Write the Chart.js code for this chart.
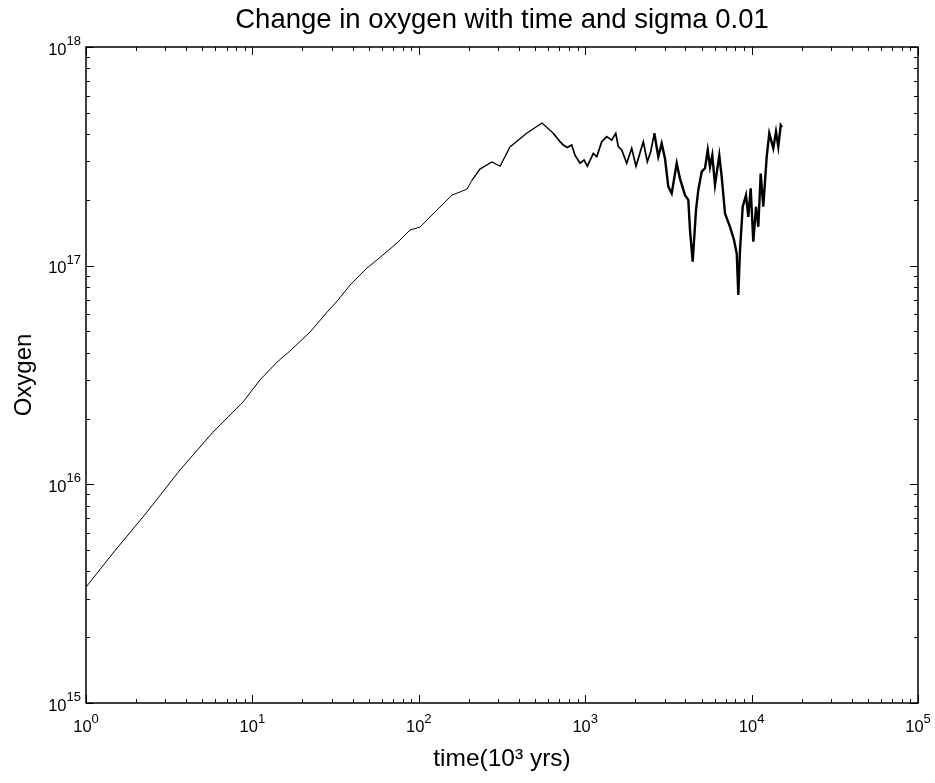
<!DOCTYPE html>
<html>
<head>
<meta charset="utf-8">
<script src="https://cdn.jsdelivr.net/npm/chart.js@4.4.1/dist/chart.umd.min.js"></script>
<style>
  html, body { margin: 0; padding: 0; background: #fff; }
  canvas { display: block; }
</style>
</head>
<body>
<canvas id="oxyChart" width="935" height="783"></canvas>
<script>
// ==================== DATA ====================
const timeKyr = [1, 1.453, 2.326, 3.67, 5.8, 8.78, 11.1, 14.05, 16.8, 22.2, 28.1, 32.7, 38.6, 48.8, 56.9,
  74, 88.5, 101.7, 125, 158, 195, 209, 233, 275, 308, 353, 447, 550, 641,
  706, 739, 780, 830, 868, 931, 984, 1030, 1119, 1173, 1257, 1347, 1443, 1526, 1581, 1658, 1776, 1903,
  2020, 2114, 2234, 2362, 2475, 2603, 2750, 2882, 3017, 3158, 3310, 3547, 3712, 3979, 4165, 4264, 4426,
  4633, 4783, 5013, 5248, 5448, 5623, 5805, 6026, 6396, 6612, 6921, 7417, 7841, 8140, 8321, 8519, 8843,
  9255, 9555, 9876, 10237, 10627, 10972, 11342, 11757, 12325, 12775, 13502, 14016, 14470, 14960, 15230];
const oxygen = [3.39e15, 4.85e15, 7.47e15, 1.163e16, 1.734e16, 2.378e16, 3.0e16, 3.62e16, 4.07e16, 4.97e16, 6.13e16, 6.96e16, 8.15e16, 9.75e16, 1.072e17,
  1.269e17, 1.455e17, 1.501e17, 1.759e17, 2.1e17, 2.24e17, 2.463e17, 2.765e17, 2.98e17, 2.85e17, 3.49e17, 4.04e17, 4.49e17, 4.04e17,
  3.69e17, 3.56e17, 3.47e17, 3.56e17, 3.2e17, 2.94e17, 3.04e17, 2.85e17, 3.26e17, 3.15e17, 3.69e17, 3.89e17, 3.75e17, 4.03e17, 3.5e17, 3.38e17, 2.94e17, 3.44e17,
  2.85e17, 3.2e17, 3.69e17, 2.99e17, 3.32e17, 4.03e17, 3.15e17, 3.62e17, 3.09e17, 2.3e17, 2.14e17, 2.94e17, 2.5e17, 2.1e17, 2.0e17, 1.455e17, 1.042e17,
  1.796e17, 2.22e17, 2.69e17, 2.79e17, 3.38e17, 2.83e17, 3.2e17, 2.34e17, 3.2e17, 2.55e17, 1.734e17, 1.506e17, 1.31e17, 1.138e17, 7.34e16, 1.178e17, 1.86e17,
  2.1e17, 1.673e17, 2.26e17, 1.286e17, 1.86e17, 1.506e17, 2.64e17, 1.86e17, 3.15e17, 4.03e17, 3.44e17, 4.1e17, 3.5e17, 4.39e17, 4.3e17];

const xTickValues = [1, 10, 100, 1000, 10000, 100000];
const xTickLabels = ['10^0', '10^1', '10^2', '10^3', '10^4', '10^5'];
const yTickValues = [1e15, 1e16, 1e17, 1e18];
const yTickLabels = ['10^15', '10^16', '10^17', '10^18'];

const FONT = '"Liberation Sans", Arial, Helvetica, sans-serif';

// ==================== FRAME, INWARD TICKS, POWER LABELS ====================
function logTickValues(min, max) {
  const out = [];
  for (let k = Math.round(Math.log10(min)); k < Math.round(Math.log10(max)); k++) {
    for (let m = 1; m <= 9; m++) out.push({ v: m * Math.pow(10, k), major: m === 1 });
  }
  out.push({ v: max, major: true });
  return out;
}

// draws "10" with a raised exponent, x is left edge
function drawPower(ctx, label, x, baseY) {
  const [base, exp] = label.split('^');
  ctx.font = '16.5px ' + FONT;
  ctx.fillText(base, x, baseY);
  const w = ctx.measureText(base).width;
  ctx.font = '13px ' + FONT;
  ctx.fillText(exp, x + w, baseY - 9.5);
}
function powerWidth(ctx, label) {
  const [base, exp] = label.split('^');
  ctx.font = '16.5px ' + FONT;
  const w = ctx.measureText(base).width;
  ctx.font = '13px ' + FONT;
  return w + ctx.measureText(exp).width;
}

const frameTicks = {
  id: 'frameTicks',
  afterDraw(chart) {
    const { ctx, chartArea: a, scales: { x, y } } = chart;
    ctx.save();
    ctx.strokeStyle = '#000';
    ctx.lineWidth = 1;
    ctx.beginPath();
    logTickValues(x.min, x.max).forEach(t => {
      const px = Math.round(x.getPixelForValue(t.v)) + 0.5;
      const len = t.major ? 8 : 4;
      ctx.moveTo(px, a.bottom); ctx.lineTo(px, a.bottom - len);
      ctx.moveTo(px, a.top); ctx.lineTo(px, a.top + len);
    });
    logTickValues(y.min, y.max).forEach(t => {
      const py = Math.round(y.getPixelForValue(t.v)) + 0.5;
      const len = t.major ? 8 : 4;
      ctx.moveTo(a.left, py); ctx.lineTo(a.left + len, py);
      ctx.moveTo(a.right, py); ctx.lineTo(a.right - len, py);
    });
    ctx.stroke();
    ctx.lineWidth = 1.5;
    ctx.strokeRect(a.left, a.top, a.width, a.height);

    // tick labels
    ctx.fillStyle = '#000';
    ctx.textBaseline = 'alphabetic';
    ctx.textAlign = 'left';
    xTickValues.forEach((v, i) => {
      const px = x.getPixelForValue(v);
      const w = powerWidth(ctx, xTickLabels[i]);
      drawPower(ctx, xTickLabels[i], px - w / 2, a.bottom + 29);
    });
    yTickValues.forEach((v, i) => {
      const py = y.getPixelForValue(v);
      const w = powerWidth(ctx, yTickLabels[i]);
      drawPower(ctx, yTickLabels[i], a.left - 5 - w, py + 7.5);
    });
    ctx.restore();
  }
};

// ==================== CHART ====================
Chart.defaults.font.family = FONT;
Chart.defaults.color = '#000';

const points = timeKyr.map((t, i) => ({ x: t, y: oxygen[i] }));

new Chart(document.getElementById('oxyChart'), {
  type: 'line',
  data: {
    datasets: [{
      label: 'Oxygen',
      data: points,
      borderColor: '#000',
      borderWidth: 1,
      pointRadius: 0,
      tension: 0,
      fill: false,
      segment: {
        borderWidth: c => c.p0.parsed.x > 2500 ? 2.4 : (c.p0.parsed.x > 600 ? 1.7 : (c.p0.parsed.x > 200 ? 1.3 : 1))
      }
    }]
  },
  options: {
    responsive: false,
    animation: false,
    layout: { padding: { left: 0, right: 17, top: 0, bottom: 0 } },
    plugins: {
      legend: { display: false },
      tooltip: { enabled: false },
      title: {
        display: true,
        text: 'Change in oxygen with time and sigma 0.01',
        fullSize: false,
        font: { size: 27.5, weight: 'normal' },
        padding: { top: 4, bottom: 10 }
      }
    },
    scales: {
      x: {
        type: 'logarithmic',
        min: 1,
        max: 100000,
        afterBuildTicks: s => { s.ticks = xTickValues.map(v => ({ value: v })); },
        afterFit: s => { s.height = 80; },
        grid: { display: false, drawTicks: false },
        border: { display: false },
        ticks: { display: false },
        title: {
          display: true,
          text: 'time(10\u00B3 yrs)',
          font: { size: 24.5 },
          padding: { top: 0, bottom: 9 }
        }
      },
      y: {
        type: 'logarithmic',
        min: 1e15,
        max: 1e18,
        afterBuildTicks: s => { s.ticks = yTickValues.map(v => ({ value: v })); },
        afterFit: s => { s.width = 86; },
        grid: { display: false, drawTicks: false },
        border: { display: false },
        ticks: { display: false },
        title: {
          display: true,
          text: 'Oxygen',
          font: { size: 24 },
          padding: { top: 10, bottom: 0 }
        }
      }
    }
  },
  plugins: [frameTicks]
});
</script>
</body>
</html>
